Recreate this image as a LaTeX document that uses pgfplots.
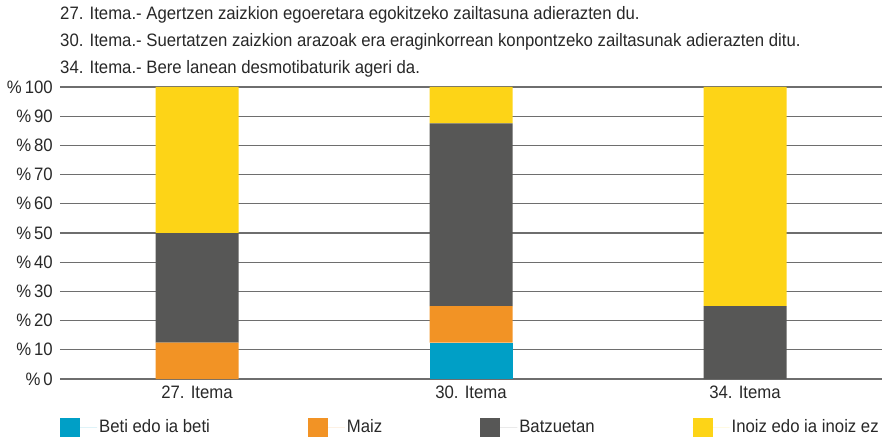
\documentclass[border=0pt]{standalone}
\usepackage{fontspec}
\setmainfont{Liberation Sans}[FakeStretch=0.93]
\usepackage{pgfplots}
\pgfplotsset{compat=1.18}
\definecolor{cBeti}{RGB}{0,159,198}
\definecolor{cMaiz}{RGB}{242,147,37}
\definecolor{cBatz}{RGB}{87,87,86}
\definecolor{cInoiz}{RGB}{253,212,23}
\definecolor{txt}{RGB}{40,40,40}
\definecolor{gridc}{RGB}{110,110,110}
\begin{document}
\fontsize{18}{20}\selectfont
\begin{tikzpicture}[x=1pt,y=1pt]
\path (-60,-63) rectangle (828,379);
\begin{axis}[
  at={(0,0)}, anchor=south west,
  width=822pt, height=292pt, scale only axis,
  ybar stacked, bar width=83pt,
  xmin=-0.5, xmax=2.5, ymin=0, ymax=100,
  xtick=data, xticklabels={27. Itema,30. Itema,34. Itema},
  ytick={0,10,...,100},
  yticklabel={\%\,\pgfmathprintnumber{\tick}},
  /pgf/number format/assume math mode=true,
  ymajorgrids, grid style={gridc, line width=1.2pt},
  axis line style={draw=none},
  major tick length=0pt,
  tick label style={font=\fontsize{18}{20}\selectfont, text=txt},
  xticklabel style={yshift=-1pt},
  yticklabel style={xshift=-1pt},
  legend columns=4,
  legend style={at={(0,-48.5pt)}, anchor=west, draw=none, fill=none, inner sep=0pt,
    font=\fontsize{18}{20}\selectfont, text=txt,
    /tikz/every even column/.append style={column sep=96pt}},
  legend cell align=left,
  legend image code/.code={\fill[#1] (0pt,-9.5pt) rectangle (20pt,9.5pt);\path (0pt,0pt) -- (37pt,0pt);},
]
\addplot[fill=cBeti, draw=none] coordinates {(0,0) (1,12.5) (2,0)};
\addplot[fill=cMaiz, draw=none] coordinates {(0,12.5) (1,12.5) (2,0)};
\addplot[fill=cBatz, draw=none] coordinates {(0,37.5) (1,62.5) (2,25)};
\addplot[fill=cInoiz, draw=none] coordinates {(0,50) (1,12.5) (2,75)};
\legend{Beti edo ia beti,Maiz,Batzuetan,Inoiz edo ia inoiz ez}
\end{axis}
\node[anchor=west, inner sep=0pt, text=txt] at (0,364) {27. Itema.- Agertzen zaizkion egoeretara egokitzeko zailtasuna adierazten du.};
\node[anchor=west, inner sep=0pt, text=txt] at (0,337) {30. Itema.- Suertatzen zaizkion arazoak era eraginkorrean konpontzeko zailtasunak adierazten ditu.};
\node[anchor=west, inner sep=0pt, text=txt] at (0,310) {34. Itema.- Bere lanean desmotibaturik ageri da.};
\end{tikzpicture}
\end{document}
